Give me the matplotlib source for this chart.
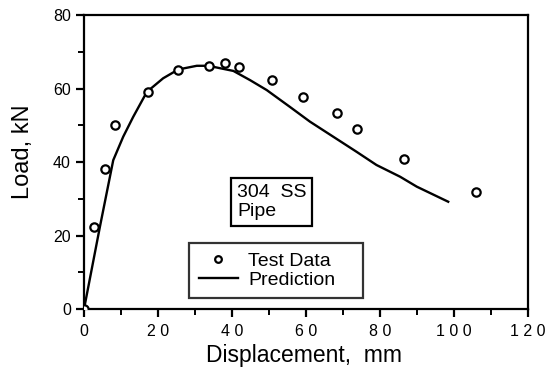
import numpy as np
import matplotlib as mpl
import matplotlib.pyplot as plt
from matplotlib.ticker import MultipleLocator

mpl.rcParams.update({
    "font.family": ["Liberation Sans", "DejaVu Sans"],
    "axes.linewidth": 1.6,
    "xtick.direction": "out", "ytick.direction": "out",
})

# ---- data ------------------------------------------------------------------
test_disp = [0.0, 2.8, 5.8, 8.4, 17.2, 25.5, 33.8, 38.1, 42.0, 50.8,
             59.1, 68.5, 73.7, 86.5, 105.9]
test_load = [0.0, 22.2, 38.0, 50.1, 59.1, 65.0, 66.2, 67.0, 65.9, 62.3,
             57.8, 53.4, 49.1, 40.7, 31.9]

pred_disp = [0.0, 4.3, 7.9, 10.6, 13.3, 17.0, 21.4, 25.5, 30.5, 33.6, 40.4,
             44.9, 49.4, 55.7, 61.1, 67.4, 73.7, 79.1, 85.5, 90.0, 98.5]
pred_load = [0.0, 22.4, 40.5, 46.9, 52.3, 59.1, 62.8, 65.2, 66.2, 66.2, 64.8,
             62.3, 59.6, 55.0, 51.0, 46.9, 42.8, 39.2, 36.0, 33.3, 29.2]

fig = plt.figure(figsize=(5.51, 3.68), dpi=100)
ax = fig.add_axes([0.1525, 0.1603, 0.8052, 0.7987])

ax.plot(pred_disp, pred_load, "-", color="black", lw=1.7, label="Prediction")
ax.plot(test_disp, test_load, "o", ms=6, mfc="white", mec="black", mew=1.6,
        ls="none", label="Test Data", zorder=3)

ax.set_xlim(0, 120)
ax.set_ylim(0, 80)
ax.xaxis.set_major_locator(MultipleLocator(20))
ax.xaxis.set_minor_locator(MultipleLocator(10))
ax.yaxis.set_major_locator(MultipleLocator(20))
ax.yaxis.set_minor_locator(MultipleLocator(10))
ax.tick_params(which="major", length=6, width=1.6, labelsize=11.5)
ax.tick_params(axis="x", which="major", pad=5)
ax.tick_params(which="minor", length=4, width=1.4)
ax.set_xticklabels([" ".join(str(int(v))) for v in ax.get_xticks()])

ax.set_xlabel("Displacement,  mm", fontsize=16.5)
ax.xaxis.set_label_coords(0.495, -0.118)
ax.set_ylabel("Load, kN", fontsize=17)
ax.yaxis.set_label_coords(-0.113, 0.534)

# annotation box
ax.text(0.345, 0.425, "304  SS\nPipe", transform=ax.transAxes, fontsize=14,
        va="top", ha="left", linespacing=1.15,
        bbox=dict(boxstyle="square,pad=0.3", fc="white", ec="black", lw=1.6))

handles, labels = ax.get_legend_handles_labels()
leg = ax.legend(handles[::-1], labels[::-1], loc="lower left",
                bbox_to_anchor=(0.237, 0.036, 0.392, 0.199), mode="expand",
                fontsize=14, frameon=True, fancybox=False, edgecolor="black",
                handlelength=2.0, handletextpad=0.55, labelspacing=0.05,
                borderpad=0.5, borderaxespad=0, markerscale=0.8)
leg.get_frame().set_linewidth(1.6)

fig.savefig("out.png", dpi=100)
